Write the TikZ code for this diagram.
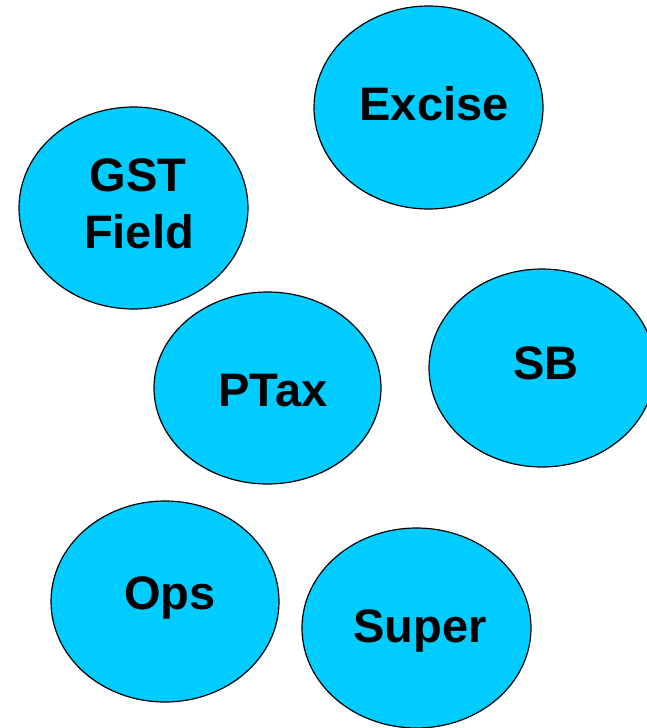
\documentclass[tikz,border=0pt]{standalone}
\usepackage{fontspec}
\setmainfont{Liberation Sans}
\usetikzlibrary{shapes.geometric}
\definecolor{bubble}{HTML}{00CCFF}
\tikzset{
  bubble/.style={ellipse, draw=black, line width=1.2pt, fill=bubble, inner sep=0pt},
  lbl/.style={anchor=base, font=\fontsize{47}{57}\selectfont\bfseries, inner sep=0pt}
}
\begin{document}
\begin{tikzpicture}[x=1pt,y=-1pt]
\useasboundingbox (0,0) rectangle (647,728);
\clip (0,0) rectangle (647,728);
\fill[white] (0,0) rectangle (647,728);
\node[bubble, minimum width=229pt, minimum height=203pt] (excise) at (428.5,107.5) {};
\node[bubble, minimum width=229pt, minimum height=202pt] (gst) at (133.5,208) {};
\node[bubble, minimum width=227pt, minimum height=192pt] (ptax) at (267.5,388) {};
\node[bubble, minimum width=226pt, minimum height=198pt] (sb) at (542,368) {};
\node[bubble, minimum width=228pt, minimum height=201pt] (ops) at (165,601.5) {};
\node[bubble, minimum width=229pt, minimum height=200pt] (super) at (416.5,628) {};
\node[lbl] (texcise) at (434,120) {Excise};
\node[lbl] (tgst) at (138,191) {GST};
\node[lbl] (tfield) at (139,248) {Field};
\node[lbl] (tptax) at (273,406) {PTax};
\node[lbl] (tsb) at (546,379) {SB};
\node[lbl] (tops) at (170,609) {Ops};
\node[lbl] (tsuper) at (420,642) {Super};
\end{tikzpicture}
\end{document}
